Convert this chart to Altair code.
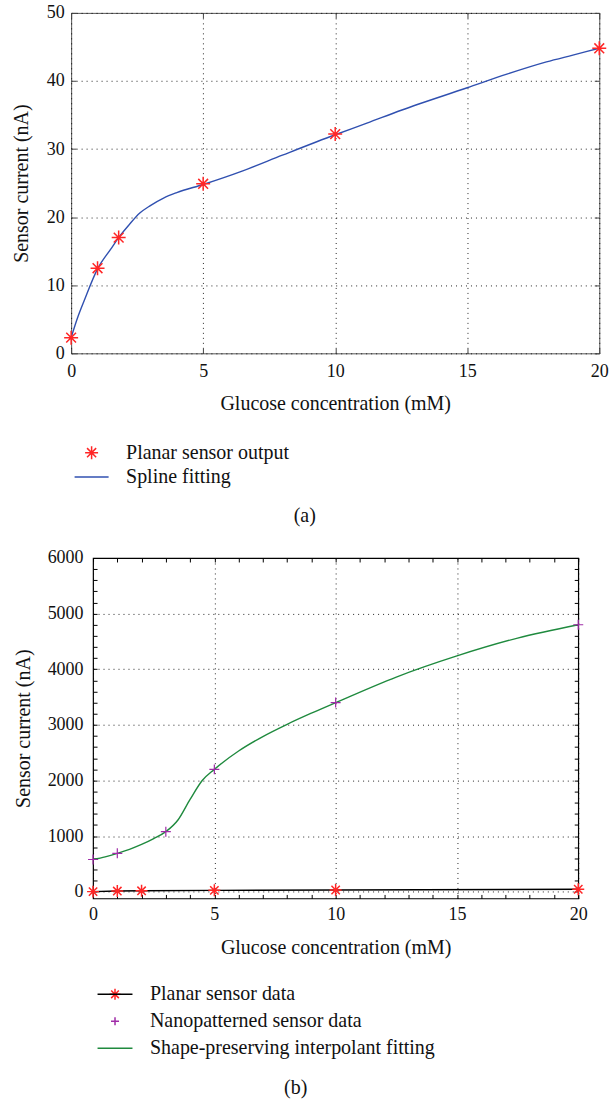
import altair as alt
import pandas as pd

FONT = "Liberation Serif"

# ---------------- Panel (a) data ----------------
conc_a = [0, 1, 1.8, 5, 10, 20]
current_a = [2.3, 12.5, 17.0, 24.9, 32.2, 44.8]

spline_x = [0, 0.25, 0.5, 1, 1.5, 1.8, 2.2, 2.6, 3, 3.5, 4, 5, 6.5, 8, 10, 11.2, 12.5, 15, 16.5, 18, 19, 20]
spline_y = [2.3, 5.3, 7.8, 12.4, 15.3, 17.0, 18.9, 20.6, 21.7, 22.8, 23.6, 24.8, 26.8, 29.1, 32.1, 33.8, 35.7, 39.0, 41.0, 42.8, 43.8, 44.8]

series_a = ["Planar sensor output", "Spline fitting"]
xticks_a = [0, 5, 10, 15, 20]
yticks_a = [0, 10, 20, 30, 40, 50]
caption_a = ["(a)"]

# ---------------- Panel (b) data ----------------
conc_b = [0, 1, 2, 5, 10, 20]
planar_b = [2.3, 12.5, 17.0, 25.0, 32.0, 45.0]

nano_x = [0, 1, 3, 5, 10, 20]
nano_y = [580, 690, 1080, 2200, 3400, 4800]

pchip_x = [0, 0.5, 1, 1.5, 2, 2.5, 3, 3.5, 4, 4.5, 5, 6, 7, 8, 9, 10, 12.5, 15, 17.5, 20]
pchip_y = [580, 628, 690, 762, 850, 955, 1080, 1290, 1660, 2000, 2200, 2530, 2790, 3010, 3210, 3400, 3860, 4240, 4560, 4800]

series_b = ["Planar sensor data", "Nanopatterned sensor data", "Shape-preserving interpolant fitting"]
xticks_b = [0, 5, 10, 15, 20]
yticks_b = [0, 1000, 2000, 3000, 4000, 5000, 6000]
xminor_b = list(range(0, 21))
yminor_b = list(range(0, 6001, 200))
caption_b = ["(b)"]

# ---------------- symbols ----------------
STAR = "M-1,0L1,0M0,-1L0,1M-0.7,-0.7L0.7,0.7M-0.7,0.7L0.7,-0.7"
CROSS = "M-0.73,0L0.73,0M0,-0.73L0,0.73"
LINE_A = "M-2.62,0L2.62,0"     # legend line, 34 px with a 13 px symbol size
LINE_B = "M-3.18,0L3.18,0"     # legend line, 35 px with an 11 px symbol size

RED = "#ff2626"
BLUE = "#3050b0"
PURPLE = "#a02ca8"
GREEN = "#1f8a3e"


def main_axis(orient, values, title, label_pad, title_pad, fmt=None):
    kw = dict(
        orient=orient, values=values, title=title,
        grid=True, gridColor="#000000", gridDash=[1, 4], gridOpacity=0.85, gridWidth=1,
        ticks=False, domain=False, labelFlush=False,
        labelFont=FONT, labelFontSize=18, labelColor="#111111", labelPadding=label_pad,
        titleFont=FONT, titleFontSize=20, titleFontWeight="normal", titleColor="#111111",
        titlePadding=title_pad,
    )
    if fmt:
        kw["format"] = fmt
    return alt.Axis(**kw)


def tick_axis(orient, values, color, size):
    return alt.Axis(orient=orient, values=values, labels=False, domain=False, grid=False,
                    ticks=True, tickSize=size, tickColor=color, tickWidth=1, offset=-size, title=None)


def legend(x, y, symsize, row_pad, label_off, label_color="#111111", symtype=None):
    kw = dict(orient="none", legendX=x, legendY=y, title=None, padding=0,
              labelFont=FONT, labelFontSize=20, labelColor=label_color, labelOffset=label_off,
              symbolSize=symsize, symbolStrokeWidth=1.5, rowPadding=row_pad, labelLimit=400)
    if symtype:
        kw["symbolType"] = symtype
    return alt.Legend(**kw)


# ================= Panel (a) =================
W_A, H_A = 529, 341
xs_a = alt.Scale(domain=[0, 20], nice=False, zero=False)
ys_a = alt.Scale(domain=[0, 50], nice=False, zero=False)

pts_a = pd.DataFrame({"x": conc_a, "y": current_a, "series": series_a[0]})
fit_a = pd.DataFrame({"x": spline_x, "y": spline_y, "series": series_a[1]})

leg_a = legend(10.5, 430.5, 169, 4.5, 24.5)
color_a = alt.Color("series:N", scale=alt.Scale(domain=series_a, range=[RED, BLUE]), legend=leg_a)
shape_a = alt.Shape("series:N", scale=alt.Scale(domain=series_a, range=[STAR, LINE_A]), legend=leg_a)

line_a = alt.Chart(fit_a).mark_line(interpolate="monotone", strokeWidth=1.4).encode(
    x=alt.X("x:Q", scale=xs_a, axis=main_axis("bottom", xticks_a, "Glucose concentration (mM)", 9, 13)),
    y=alt.Y("y:Q", scale=ys_a, axis=main_axis("left", yticks_a, "Sensor current (nA)", 7, 15)),
    color=color_a,
)
star_a = alt.Chart(pts_a).mark_point(filled=False, size=196, strokeWidth=1.5, opacity=1).encode(
    x=alt.X("x:Q", scale=xs_a, axis=None),
    y=alt.Y("y:Q", scale=ys_a, axis=None),
    color=color_a, shape=shape_a,
)
ticks_a1 = alt.Chart(fit_a).mark_point(opacity=0).encode(
    x=alt.X("x:Q", scale=xs_a, axis=tick_axis("top", xticks_a, "#444444", 5)),
    y=alt.Y("y:Q", scale=ys_a, axis=tick_axis("right", yticks_a, "#444444", 5)),
)
ticks_a2 = alt.Chart(fit_a).mark_point(opacity=0).encode(
    x=alt.X("x:Q", scale=xs_a, axis=tick_axis("bottom", xticks_a, "#444444", 5)),
    y=alt.Y("y:Q", scale=ys_a, axis=tick_axis("left", yticks_a, "#444444", 5)),
)
cap_a = alt.Chart(pd.DataFrame({"t": caption_a})).mark_text(font=FONT, fontSize=20, color="#111111").encode(
    text="t:N", x=alt.value(234), y=alt.value(504)
)

panel_a = alt.layer(line_a, star_a, ticks_a1, ticks_a2, cap_a).resolve_axis(
    x="independent", y="independent"
).properties(width=W_A, height=H_A, view=alt.ViewBackground(stroke="#555555", strokeWidth=1))

# ================= Panel (b) =================
W_B, H_B = 486, 341
xs_b = alt.Scale(domain=[0, 20], nice=False, zero=False)
ys_b = alt.Scale(domain=[-120, 6000], nice=False, zero=False)

planar_df = pd.DataFrame({"x": conc_b, "y": planar_b, "series": series_b[0]})
nano_df = pd.DataFrame({"x": nano_x, "y": nano_y, "series": series_b[1]})
fit_b = pd.DataFrame({"x": pchip_x, "y": pchip_y, "series": series_b[2]})

leg_b = legend(12, 427, 121, 7, 25)
color_b = alt.Color("series:N", scale=alt.Scale(domain=series_b, range=[RED, PURPLE, GREEN]), legend=leg_b)
shape_b = alt.Shape("series:N", scale=alt.Scale(domain=series_b, range=[STAR, CROSS, LINE_B]), legend=leg_b)
leg_line = legend(12, 427, 121, 7, 25, label_color="transparent", symtype=LINE_B)

green_b = alt.Chart(fit_b).mark_line(interpolate="monotone", strokeWidth=1.4).encode(
    x=alt.X("x:Q", scale=xs_b, axis=main_axis("bottom", xticks_b, "Glucose concentration (mM)", 7, 14)),
    y=alt.Y("y:Q", scale=ys_b, axis=main_axis("left", yticks_b, "Sensor current (nA)", 10, 14, "d")),
    color=color_b,
)
black_b = alt.Chart(planar_df).mark_line(strokeWidth=1.4).encode(
    x=alt.X("x:Q", scale=xs_b, axis=None),
    y=alt.Y("y:Q", scale=ys_b, axis=None),
    stroke=alt.Stroke("series:N", scale=alt.Scale(domain=[series_b[0]], range=["#000000"]), legend=leg_line),
)
star_b = alt.Chart(planar_df).mark_point(filled=False, size=144, strokeWidth=1.5, opacity=1).encode(
    x=alt.X("x:Q", scale=xs_b, axis=None),
    y=alt.Y("y:Q", scale=ys_b, axis=None),
    color=color_b, shape=shape_b,
)
cross_b = alt.Chart(nano_df).mark_point(filled=False, size=188, strokeWidth=1.2, opacity=1).encode(
    x=alt.X("x:Q", scale=xs_b, axis=None),
    y=alt.Y("y:Q", scale=ys_b, axis=None),
    color=color_b, shape=shape_b,
)
ticks_b1 = alt.Chart(fit_b).mark_point(opacity=0).encode(
    x=alt.X("x:Q", scale=xs_b, axis=tick_axis("top", xminor_b, "#000000", 4)),
    y=alt.Y("y:Q", scale=ys_b, axis=tick_axis("right", yminor_b, "#000000", 4)),
)
ticks_b2 = alt.Chart(fit_b).mark_point(opacity=0).encode(
    x=alt.X("x:Q", scale=xs_b, axis=tick_axis("bottom", xminor_b, "#000000", 4)),
    y=alt.Y("y:Q", scale=ys_b, axis=tick_axis("left", yminor_b, "#000000", 4)),
)
cap_b = alt.Chart(pd.DataFrame({"t": caption_b})).mark_text(font=FONT, fontSize=20, color="#111111").encode(
    text="t:N", x=alt.value(203), y=alt.value(531)
)

panel_b = alt.layer(green_b, black_b, star_b, cross_b, ticks_b1, ticks_b2, cap_b).resolve_axis(
    x="independent", y="independent"
).properties(width=W_B, height=H_B, view=alt.ViewBackground(stroke="#000000", strokeWidth=1.2))

chart = alt.VConcatChart(vconcat=[panel_a, panel_b], spacing=21, center=True).resolve_scale(
    color="independent", shape="independent", stroke="independent"
).resolve_legend(
    color="independent", shape="independent", stroke="independent"
).properties(
    padding={"left": 10, "top": 2, "right": 0, "bottom": 0}
).configure(background="white")

chart.save("out.html", embed_options={"renderer": "svg", "actions": False})
